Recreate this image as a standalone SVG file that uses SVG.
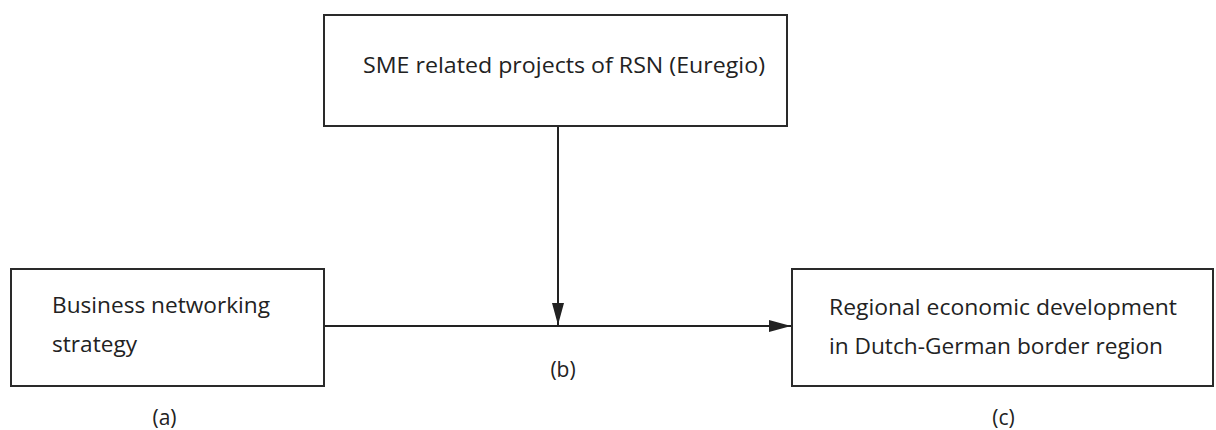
<svg xmlns="http://www.w3.org/2000/svg" width="1216" height="430" viewBox="0 0 1216 430">
  <style>
    .box { fill: #ffffff; stroke: #2a2a2a; stroke-width: 2; }
    .lbl { font-family: "Open Sans", "Liberation Sans", sans-serif; font-size: 21px; fill: #222222; }
    .mid { text-anchor: middle; }
    .conn { stroke: #222222; stroke-width: 2; fill: none; }
  </style>
  <defs>
    <marker id="arrow" viewBox="0 0 22 12" refX="22" refY="6" markerWidth="22" markerHeight="12" markerUnits="userSpaceOnUse" orient="auto">
      <path d="M0,0 L22,6 L0,12 Z" fill="#222222"/>
    </marker>
  </defs>
  <rect width="1216" height="430" fill="#ffffff"/>
  <g id="connectors">
    <line class="conn" x1="324" y1="326" x2="791" y2="326" marker-end="url(#arrow)"/>
    <line class="conn" x1="558" y1="126" x2="558" y2="325" marker-end="url(#arrow)"/>
  </g>
  <g id="node-sme">
    <rect class="box" x="324" y="15" width="463" height="111"/>
    <text class="lbl" x="363" y="73" textLength="402" lengthAdjust="spacingAndGlyphs">SME related projects of RSN (Euregio)</text>
  </g>
  <g id="node-business">
    <rect class="box" x="11" y="269" width="313" height="117"/>
    <text class="lbl" x="52" y="313" textLength="218" lengthAdjust="spacingAndGlyphs">Business networking</text>
    <text class="lbl" x="52" y="352" textLength="85" lengthAdjust="spacingAndGlyphs">strategy</text>
  </g>
  <g id="node-regional">
    <rect class="box" x="792" y="269" width="421" height="117"/>
    <text class="lbl" x="829" y="315" textLength="348" lengthAdjust="spacingAndGlyphs">Regional economic development</text>
    <text class="lbl" x="829" y="354" textLength="334" lengthAdjust="spacingAndGlyphs">in Dutch-German border region</text>
  </g>
  <g id="labels">
    <text class="lbl mid" x="164.5" y="425">(a)</text>
    <text class="lbl mid" x="563" y="377">(b)</text>
    <text class="lbl mid" x="1003.5" y="425">(c)</text>
  </g>
</svg>
